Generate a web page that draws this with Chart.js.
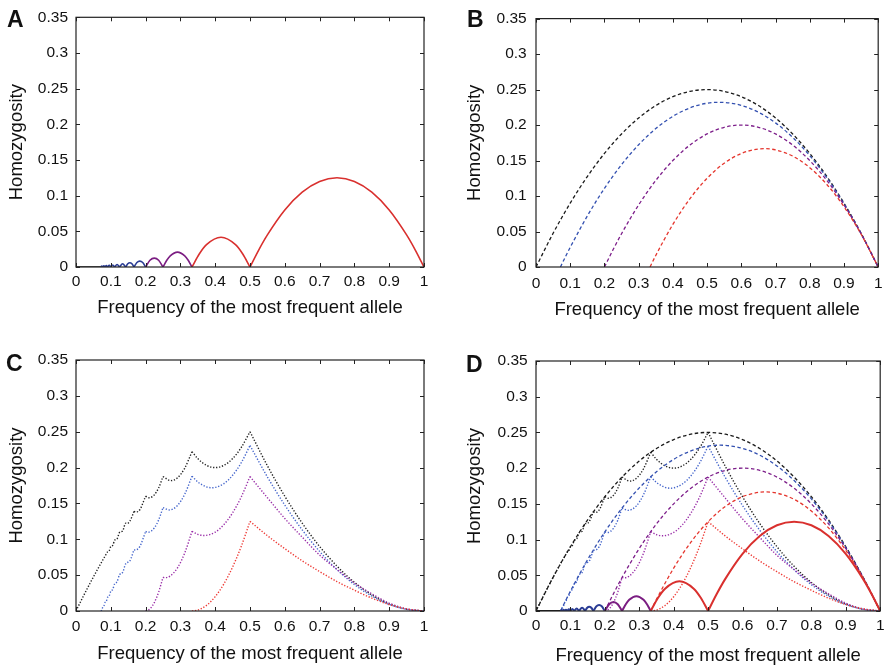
<!DOCTYPE html>
<html>
<head>
<meta charset="utf-8">
<script src="https://cdn.jsdelivr.net/npm/chart.js@4.4.1/dist/chart.umd.min.js"></script>
<style>
  body { margin: 0; background: #fff; }
  #wrap { position: relative; width: 890px; height: 668px; }
  canvas { position: absolute; }
</style>
</head>
<body>
<div id="wrap">
  <canvas id="chartA" width="445" height="334" style="left:0;top:0"></canvas>
  <canvas id="chartB" width="445" height="334" style="left:445px;top:0"></canvas>
  <canvas id="chartC" width="445" height="334" style="left:0;top:334px"></canvas>
  <canvas id="chartD" width="445" height="334" style="left:445px;top:334px"></canvas>
</div>
<script>
// axis ticks
const xTicks = [0, 0.1, 0.2, 0.3, 0.4, 0.5, 0.6, 0.7, 0.8, 0.9, 1];
const xTickLabels = ['0', '0.1', '0.2', '0.3', '0.4', '0.5', '0.6', '0.7', '0.8', '0.9', '1'];
const yTicks = [0, 0.05, 0.1, 0.15, 0.2, 0.25, 0.3, 0.35];
const yTickLabels = ['0', '0.05', '0.1', '0.15', '0.2', '0.25', '0.3', '0.35'];
const xTitle = 'Frequency of the most frequent allele';
const yTitle = 'Homozygosity';

// solid curve (panel A), null = break at the cusps
const solidX = [
  0, 0.0714, 0.0714,
  0.0714, 0.0742, 0.0769, 0.0769,
  0.0769, 0.0801, 0.0833, 0.0833,
  0.0833, 0.0871, 0.0909, 0.0909,
  0.0909, 0.0955, 0.1, 0.1,
  0.1, 0.1056, 0.1111, 0.1111,
  0.1111, 0.1181, 0.125, 0.125,
  0.125, 0.1339, 0.1429, 0.1429,
  0.1429, 0.1488, 0.1548, 0.1607, 0.1667, 0.1667,
  0.1667, 0.175, 0.1833, 0.1917, 0.2, 0.2,
  0.2, 0.2125, 0.225, 0.2375, 0.25, 0.25,
  0.25, 0.2604, 0.2708, 0.2917, 0.3125, 0.3229, 0.3333, 0.3333,
  0.3333, 0.3542, 0.375, 0.4167, 0.4583, 0.4792, 0.5, 0.5,
  0.5, 0.525, 0.55, 0.6, 0.65, 0.7, 0.75, 0.8, 0.85, 0.9, 0.95, 0.975, 1
];
const solidY = [
  0, 0, null,
  0, 0.0014, 0, null,
  0, 0.0016, 0, null,
  0, 0.0019, 0, null,
  0, 0.0023, 0, null,
  0, 0.0028, 0, null,
  0, 0.0035, 0, null,
  0, 0.0045, 0, null,
  0, 0.0045, 0.006, 0.0045, 0, null,
  0, 0.0063, 0.0083, 0.0063, 0, null,
  0, 0.0094, 0.0125, 0.0094, 0, null,
  0, 0.0091, 0.0156, 0.0208, 0.0156, 0.0091, 0, null,
  0, 0.0182, 0.0313, 0.0417, 0.0313, 0.0182, 0, null,
  0, 0.0238, 0.045, 0.08, 0.105, 0.12, 0.125, 0.12, 0.105, 0.08, 0.045, 0.0238, 0
];

// dashed curves (panel B)
const dashBlackX = [0, 0.05, 0.1, 0.15, 0.2, 0.25, 0.3, 0.35, 0.4, 0.45, 0.5, 0.55, 0.6, 0.65, 0.7, 0.75, 0.8, 0.85, 0.9, 0.95, 1];
const dashBlackY = [0, 0.0475, 0.09, 0.1275, 0.16, 0.1875, 0.21, 0.2275, 0.24, 0.2475, 0.25, 0.2475, 0.24, 0.2275, 0.21, 0.1875, 0.16, 0.1275, 0.09, 0.0475, 0];
const dashBlueX = [0.0714, 0.0857, 0.1, 0.15, 0.2, 0.25, 0.3, 0.35, 0.4, 0.45, 0.5, 0.5357, 0.55, 0.6, 0.65, 0.7, 0.75, 0.8, 0.85, 0.9, 0.95, 1];
const dashBlueY = [0, 0.0141, 0.0277, 0.0719, 0.1108, 0.1442, 0.1723, 0.195, 0.2123, 0.2242, 0.2308, 0.2321, 0.2319, 0.2277, 0.2181, 0.2031, 0.1827, 0.1569, 0.1258, 0.0892, 0.0473, 0];
const dashPurpleX = [0.2, 0.225, 0.25, 0.3, 0.35, 0.4, 0.45, 0.5, 0.55, 0.6, 0.65, 0.7, 0.75, 0.8, 0.85, 0.9, 0.95, 1];
const dashPurpleY = [0, 0.0242, 0.0469, 0.0875, 0.1219, 0.15, 0.1719, 0.1875, 0.1969, 0.2, 0.1969, 0.1875, 0.1719, 0.15, 0.1219, 0.0875, 0.0469, 0];
const dashRedX = [0.3333, 0.35, 0.4, 0.45, 0.5, 0.55, 0.6, 0.65, 0.6667, 0.7, 0.75, 0.8, 0.85, 0.9, 0.95, 1];
const dashRedY = [0, 0.0163, 0.06, 0.0963, 0.125, 0.1463, 0.16, 0.1663, 0.1667, 0.165, 0.1563, 0.14, 0.1163, 0.085, 0.0463, 0];

// dotted curves (panel C)
const dotBlackX = [
  0, 0.02, 0.04, 0.06, 0.0714, 0.0833, 0.0909, 0.0955, 0.1, 0.1056, 0.1111, 0.1181, 0.125, 0.1339, 0.1429, 0.1463, 0.1548, 0.1667, 0.1667,
  0.1667, 0.1724, 0.1833, 0.2, 0.2,
  0.2, 0.2105, 0.225, 0.2375, 0.25, 0.25,
  0.25, 0.2727, 0.2917, 0.3125, 0.3333, 0.3333,
  0.3333, 0.35, 0.375, 0.4, 0.425, 0.45, 0.475, 0.5, 0.5,
  0.5, 0.55, 0.6, 0.65, 0.7, 0.75, 0.8, 0.85, 0.9, 0.95, 1
];
const dotBlackY = [
  0, 0.0196, 0.0384, 0.0564, 0.0663, 0.0764, 0.0826, 0.0841, 0.09, 0.0917, 0.0988, 0.1007, 0.1094, 0.1115, 0.1224, 0.122, 0.1253, 0.1389, null,
  0.1389, 0.1379, 0.1412, 0.16, null,
  0.16, 0.1579, 0.1619, 0.1717, 0.1875, null,
  0.1875, 0.1818, 0.1858, 0.1992, 0.2222, null,
  0.2222, 0.2125, 0.2031, 0.2, 0.2031, 0.2125, 0.2281, 0.25, null,
  0.25, 0.2025, 0.16, 0.1225, 0.09, 0.0625, 0.04, 0.0225, 0.01, 0.0025, 0
];
const dotBlueX = [
  0.0714, 0.0742, 0.0769, 0.0801, 0.0833, 0.0871, 0.0909, 0.0955, 0.1, 0.1056, 0.1111, 0.1181, 0.125, 0.1339, 0.1429, 0.1548, 0.1667, 0.1667,
  0.1667, 0.1702, 0.1833, 0.2, 0.2,
  0.2, 0.2073, 0.225, 0.2375, 0.25, 0.25,
  0.25, 0.2676, 0.2917, 0.3125, 0.3333, 0.3333,
  0.3333, 0.35, 0.375, 0.3906, 0.4, 0.425, 0.45, 0.475, 0.5, 0.5,
  0.5, 0.55, 0.6, 0.65, 0.7, 0.75, 0.8, 0.85, 0.9, 0.95, 1
];
const dotBlueY = [
  0, 0.0014, 0.0055, 0.007, 0.0118, 0.0135, 0.0191, 0.0211, 0.0277, 0.0301, 0.038, 0.0408, 0.0505, 0.0538, 0.0659, 0.0699, 0.0855, null,
  0.0855, 0.0851, 0.0899, 0.1108, null,
  0.1108, 0.1098, 0.1157, 0.127, 0.1442, null,
  0.1442, 0.1409, 0.1472, 0.1629, 0.188, null,
  0.188, 0.18, 0.1731, 0.1719, 0.1723, 0.1777, 0.1892, 0.2069, 0.2308, null,
  0.2308, 0.1869, 0.1477, 0.1131, 0.0831, 0.0577, 0.0369, 0.0208, 0.0092, 0.0023, 0
];
const dotPurpleX = [
  0.2, 0.2125, 0.225, 0.2375, 0.25, 0.25,
  0.25, 0.2558, 0.2708, 0.2917, 0.3125, 0.3333, 0.3333,
  0.3333, 0.35, 0.3684, 0.4, 0.425, 0.45, 0.475, 0.5, 0.5,
  0.5, 0.55, 0.6, 0.65, 0.7, 0.75, 0.8, 0.85, 0.9, 0.95, 1
];
const dotPurpleY = [
  0, 0.0029, 0.0117, 0.0264, 0.0469, null,
  0.0469, 0.0465, 0.0489, 0.0603, 0.081, 0.1111, null,
  0.1111, 0.1069, 0.1053, 0.11, 0.1205, 0.1369, 0.1592, 0.1875, null,
  0.1875, 0.158, 0.129, 0.103, 0.078, 0.058, 0.039, 0.024, 0.011, 0.003, 0
];
const dotRedX = [
  0.3333, 0.35, 0.375, 0.4, 0.425, 0.45, 0.475, 0.5, 0.5,
  0.5, 0.55, 0.6, 0.65, 0.7, 0.75, 0.8, 0.85, 0.9, 0.95, 1
];
const dotRedY = [
  0, 0.0013, 0.0078, 0.02, 0.0378, 0.0613, 0.0903, 0.125, null,
  0.125, 0.105, 0.087, 0.07, 0.055, 0.041, 0.029, 0.018, 0.009, 0.003, 0
];

const fontFamily = '"Liberation Sans", Arial, Helvetica, sans-serif';

function pts(xs, ys) {
  return xs.map((x, i) => ({ x: x, y: ys[i] }));
}

function solidColor(x) {
  if (x < 0.071) return '#151515';
  if (x < 0.199) return '#2b3d95';
  if (x < 0.333) return '#7b1d82';
  return '#d9302e';
}

function solidSet(w) {
  return {
    data: pts(solidX, solidY), borderWidth: w, borderColor: '#d9302e',
    segment: { borderColor: c => solidColor(c.p0.parsed.x) }
  };
}
function dashSet(xs, ys, color) {
  return { data: pts(xs, ys), borderColor: color, borderWidth: 1.3, borderDash: [3.5, 2.5] };
}
function dotSet(xs, ys, color) {
  return { data: pts(xs, ys), borderColor: color, borderWidth: 1.4, borderDash: [1.3, 1.7] };
}

function dashedAll() {
  return [
    dashSet(dashRedX, dashRedY, '#e5352d'),
    dashSet(dashPurpleX, dashPurpleY, '#7d1e8a'),
    dashSet(dashBlueX, dashBlueY, '#3350b0'),
    dashSet(dashBlackX, dashBlackY, '#1a1a1a')
  ];
}
function dottedAll() {
  return [
    dotSet(dotRedX, dotRedY, '#ee3b36'),
    dotSet(dotPurpleX, dotPurpleY, '#9a2ea8'),
    dotSet(dotBlueX, dotBlueY, '#4566cc'),
    dotSet(dotBlackX, dotBlackY, '#222222')
  ];
}

const framePlugin = {
  id: 'frame',
  afterDraw(chart, args, opts) {
    const { ctx, chartArea: a } = chart;
    const x = chart.scales.x, y = chart.scales.y;
    ctx.save();
    ctx.strokeStyle = '#222';
    ctx.lineWidth = 1.2;
    ctx.strokeRect(a.left, a.top, a.right - a.left, a.bottom - a.top);
    ctx.lineWidth = 1;
    ctx.beginPath();
    x.ticks.forEach(t => {
      const px = Math.round(x.getPixelForValue(t.value)) + 0.5;
      ctx.moveTo(px, a.bottom); ctx.lineTo(px, a.bottom - 4);
      ctx.moveTo(px, a.top); ctx.lineTo(px, a.top + 4);
    });
    y.ticks.forEach(t => {
      const py = Math.round(y.getPixelForValue(t.value)) + 0.5;
      ctx.moveTo(a.left, py); ctx.lineTo(a.left + 4, py);
      ctx.moveTo(a.right, py); ctx.lineTo(a.right - 4, py);
    });
    ctx.stroke();
    ctx.font = 'bold 23px ' + fontFamily;
    ctx.fillStyle = '#111';
    ctx.textBaseline = 'alphabetic';
    ctx.fillText(opts.letter, opts.lx, opts.ly);
    ctx.restore();
  }
};

function makeChart(id, datasets, p) {
  const tickFont = { family: fontFamily, size: 15.5 };
  const titleFont = { family: fontFamily, size: 18.5 };
  return new Chart(document.getElementById(id), {
    type: 'line',
    data: { datasets: datasets },
    options: {
      responsive: false,
      animation: false,
      events: [],
      layout: { padding: { left: 0, top: p.top, right: p.right, bottom: 0 } },
      elements: {
        point: { radius: 0 },
        line: { cubicInterpolationMode: 'monotone', borderCapStyle: 'butt' }
      },
      plugins: {
        legend: { display: false },
        tooltip: { enabled: false },
        frame: { letter: p.letter, lx: p.lx, ly: p.ly }
      },
      scales: {
        x: {
          type: 'linear', min: 0, max: 1,
          afterBuildTicks: s => { s.ticks = xTicks.map(v => ({ value: v })); },
          afterFit: s => { s.height = p.h; },
          grid: { display: false, drawTicks: false },
          border: { display: false },
          ticks: {
            autoSkip: false, maxRotation: 0, padding: p.xPad, color: '#111', font: tickFont,
            callback: (v, i) => xTickLabels[i]
          },
          title: { display: true, text: xTitle, color: '#111', font: titleFont, padding: { top: 0, bottom: p.xtPad } }
        },
        y: {
          type: 'linear', min: 0, max: 0.35,
          afterBuildTicks: s => { s.ticks = yTicks.map(v => ({ value: v })); },
          afterFit: s => { s.width = p.w; },
          grid: { display: false, drawTicks: false },
          border: { display: false },
          ticks: {
            autoSkip: false, padding: p.yPad, color: '#111', font: tickFont,
            callback: (v, i) => yTickLabels[i]
          },
          title: { display: true, text: yTitle, color: '#111', font: titleFont, padding: { top: p.ytPad, bottom: 0 } }
        }
      }
    },
    plugins: [framePlugin]
  });
}

makeChart('chartA', [solidSet(1.6)],
  { top: 15, right: 21, w: 76, h: 67, xPad: 5, xtPad: 14.6, yPad: 8, ytPad: 6, letter: 'A', lx: 7, ly: 26.5 });
makeChart('chartB', dashedAll(),
  { top: 15, right: 6, w: 91, h: 67, xPad: 7.5, xtPad: 12.9, yPad: 9.3, ytPad: 18.5, letter: 'B', lx: 22, ly: 26.5 });
makeChart('chartC', dottedAll(),
  { top: 26, right: 21, w: 76, h: 57, xPad: 6, xtPad: 2.9, yPad: 8, ytPad: 6, letter: 'C', lx: 6, ly: 37 });
makeChart('chartD', [solidSet(2)].concat(dashedAll(), dottedAll()),
  { top: 27, right: 6, w: 91, h: 57, xPad: 5.5, xtPad: 1.2, yPad: 8.3, ytPad: 18.5, letter: 'D', lx: 21, ly: 38 });
</script>
</body>
</html>
